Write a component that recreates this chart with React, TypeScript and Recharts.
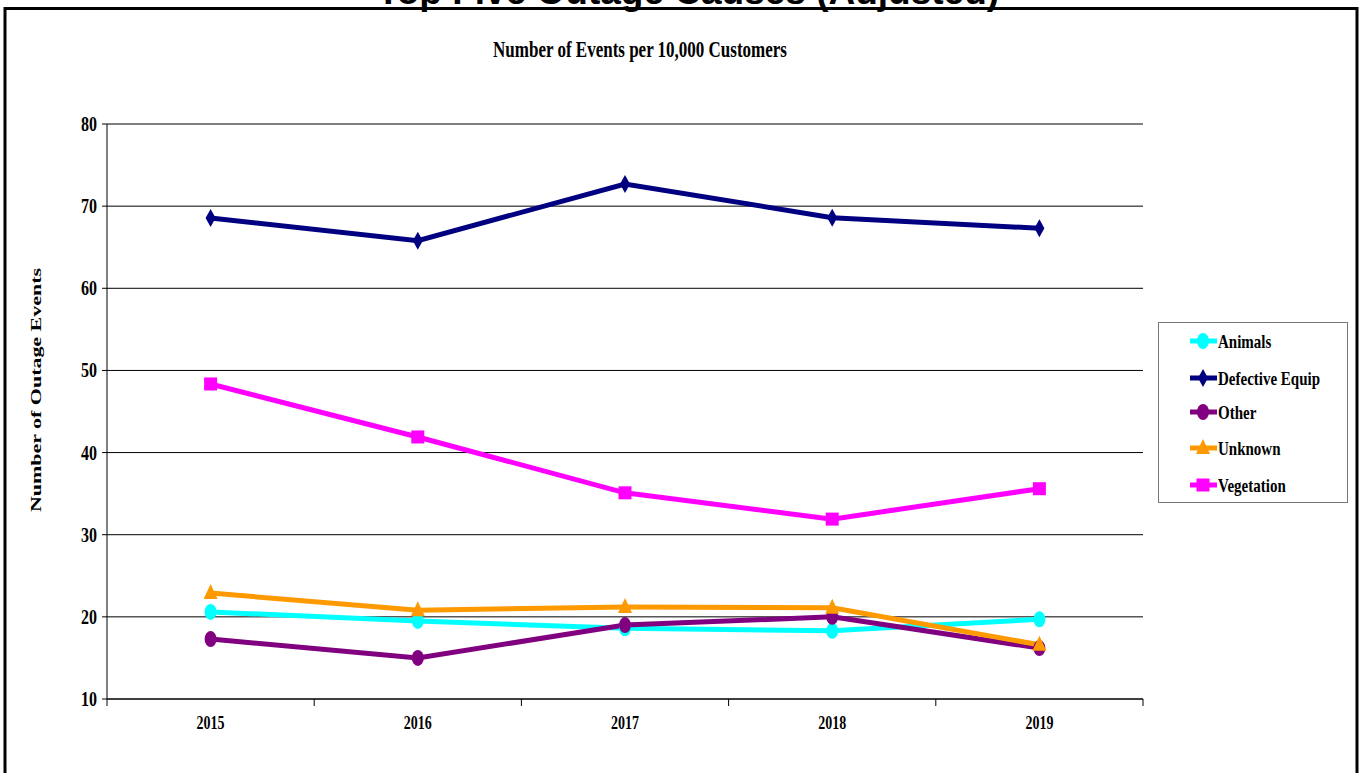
import React from 'react';
import { LineChart, Line, XAxis, YAxis, CartesianGrid, Legend } from 'recharts';

const years = ['2015', '2016', '2017', '2018', '2019'];
const animals = [20.6, 19.5, 18.6, 18.3, 19.7];
const defectiveEquip = [68.55, 65.8, 72.7, 68.6, 67.3];
const other = [17.3, 15.0, 19.0, 20.0, 16.2];
const unknown = [22.9, 20.8, 21.2, 21.1, 16.6];
const vegetation = [48.35, 41.9, 35.1, 31.9, 35.6];
const yTicks = [10, 20, 30, 40, 50, 60, 70, 80];

const data = years.map((year, i) => ({
  year,
  Animals: animals[i],
  'Defective Equip': defectiveEquip[i],
  Other: other[i],
  Unknown: unknown[i],
  Vegetation: vegetation[i],
}));

const series = [
  { key: 'Animals', color: '#00FFFF', shape: 'ellipse' },
  { key: 'Defective Equip', color: '#000080', shape: 'diamond' },
  { key: 'Other', color: '#800080', shape: 'ellipse' },
  { key: 'Unknown', color: '#FF9900', shape: 'triangle' },
  { key: 'Vegetation', color: '#FF00FF', shape: 'square' },
];

const serif = '"Liberation Serif", "Times New Roman", serif';
const X_TICK_SIZE = 6;
const X_TICK_MARGIN = 11;
const EDGE_TICK_LEN = 7;

function Marker({ shape, color, cx, cy }: { shape: string; color: string; cx: number; cy: number }) {
  if (shape === 'diamond') {
    return <polygon points={`${cx},${cy - 9} ${cx + 5},${cy} ${cx},${cy + 9} ${cx - 5},${cy}`} fill={color} />;
  }
  if (shape === 'triangle') {
    return <polygon points={`${cx},${cy - 9} ${cx + 7},${cy + 6} ${cx - 7},${cy + 6}`} fill={color} />;
  }
  if (shape === 'square') {
    return <rect x={cx - 6.5} y={cy - 6.5} width={13} height={13} fill={color} />;
  }
  return <ellipse cx={cx} cy={cy} rx={6} ry={8} fill={color} />;
}

function XTick(props: any) {
  const { x, y, payload, width, visibleTicksCount } = props;
  let off = payload && typeof payload.offset === 'number' && payload.offset > 0 ? payload.offset : 0;
  if (!off && width && visibleTicksCount) off = width / visibleTicksCount / 2;
  const axisY = y - X_TICK_SIZE - X_TICK_MARGIN;
  const isLast = visibleTicksCount ? payload.index === visibleTicksCount - 1 : false;
  return (
    <g>
      {off > 0 && (
        <line x1={x - off} x2={x - off} y1={axisY} y2={axisY + EDGE_TICK_LEN} stroke="#000" strokeWidth={1} />
      )}
      {off > 0 && isLast && (
        <line x1={x + off} x2={x + off} y1={axisY} y2={axisY + EDGE_TICK_LEN} stroke="#000" strokeWidth={1} />
      )}
      <text
        transform={`translate(${x},${y}) scale(1,1.3)`}
        textAnchor="middle"
        dy="0.71em"
        fontFamily={serif}
        fontWeight="bold"
        fontSize={14}
        fill="#000"
      >
        {payload.value}
      </text>
    </g>
  );
}

function YTick({ x, y, payload }: any) {
  return (
    <text
      transform={`translate(${x},${y}) scale(1,1.25)`}
      textAnchor="end"
      dy="0.35em"
      fontFamily={serif}
      fontWeight="bold"
      fontSize={16}
      fill="#000"
    >
      {payload.value}
    </text>
  );
}

function LegendBox() {
  return (
    <div
      style={{
        width: 190,
        height: 181,
        border: '1px solid #777',
        background: '#fff',
        boxSizing: 'border-box',
      }}
    >
      <svg width={188} height={179} style={{ display: 'block' }}>
        {series.map((s, i) => {
          const cy = [18, 55, 89, 125, 162][i];
          return (
            <g key={s.key}>
              <line x1={31} x2={58} y1={cy} y2={cy} stroke={s.color} strokeWidth={5} />
              <Marker shape={s.shape} color={s.color} cx={44} cy={cy} />
              <text
                transform={`translate(59,${cy}) scale(1,1.25)`}
                dy="0.35em"
                fontFamily={serif}
                fontWeight="bold"
                fontSize={15}
                fill="#000"
              >
                {s.key}
              </text>
            </g>
          );
        })}
      </svg>
    </div>
  );
}

export default function App() {
  return (
    <div style={{ position: 'absolute', left: 0, top: 0, width: 1359, height: 773, background: '#fff', overflow: 'hidden' }}>
      <LineChart
        width={1359}
        height={773}
        data={data}
        margin={{ top: 124, right: 216, bottom: 34, left: 0 }}
      >
        <CartesianGrid horizontal vertical={false} stroke="#000" strokeWidth={1} />
        <XAxis
          dataKey="year"
          scale="band"
          axisLine={{ stroke: '#000' }}
          tickLine={false}
          height={40}
          tickSize={X_TICK_SIZE}
          tickMargin={X_TICK_MARGIN}
          interval={0}
          tick={<XTick />}
        />
        <YAxis
          domain={[10, 80]}
          ticks={yTicks}
          width={107}
          axisLine={{ stroke: '#000' }}
          tickLine={{ stroke: '#000' }}
          tickSize={5}
          tickMargin={5}
          tick={<YTick />}
        />
        <YAxis
          yAxisId="right"
          orientation="right"
          domain={[10, 80]}
          width={0}
          tick={false}
          tickLine={false}
          axisLine={{ stroke: '#777' }}
        />
        <Legend
          layout="vertical"
          align="center"
          verticalAlign="middle"
          content={() => <LegendBox />}
          wrapperStyle={{ position: 'absolute', left: 1158, top: 322, width: 190, height: 181 }}
        />
        {series.map((s) => (
          <Line
            key={s.key}
            dataKey={s.key}
            stroke={s.color}
            strokeWidth={5}
            isAnimationActive={false}
            dot={(p: any) => <Marker key={`${s.key}-${p.index}`} shape={s.shape} color={s.color} cx={p.cx} cy={p.cy} />}
            activeDot={false}
          />
        ))}
      </LineChart>
      <svg
        width={1359}
        height={773}
        style={{ position: 'absolute', left: 0, top: 0, pointerEvents: 'none' }}
      >
        <text
          x={688}
          y={4}
          textAnchor="middle"
          fontFamily='"Liberation Sans", Arial, sans-serif'
          fontWeight="bold"
          fontSize={37}
          fill="#000"
        >
          Top Five Outage Causes (Adjusted)
        </text>
        <rect x={5} y={8.5} width={1352} height={800} fill="none" stroke="#000" strokeWidth={3} />
        <text
          transform="translate(640,57) scale(1,1.3)"
          textAnchor="middle"
          fontFamily={serif}
          fontWeight="bold"
          fontSize={17}
          fill="#000"
        >
          Number of Events per 10,000 Customers
        </text>
        <text
          transform="translate(41,390) rotate(-90)"
          textAnchor="middle"
          textLength={244}
          lengthAdjust="spacingAndGlyphs"
          fontFamily={serif}
          fontWeight="bold"
          fontSize={14}
          fill="#000"
        >
          Number  of Outage Events
        </text>
      </svg>
    </div>
  );
}
